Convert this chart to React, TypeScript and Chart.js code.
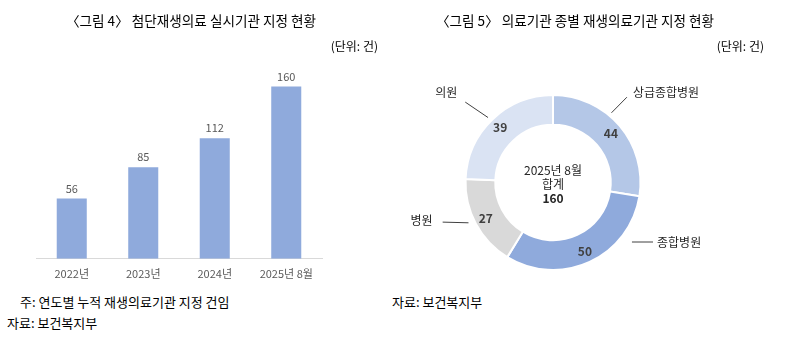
import React, { useEffect, useRef } from "react";
import { Chart, registerables } from "chart.js";

Chart.register(...registerables);

// ---- Data ----
const barCategories = ["2022년", "2023년", "2024년", "2025년 8월"];
const barValues = [56, 85, 112, 160];

const donutCategories = ["상급종합병원", "종합병원", "병원", "의원"];
const donutValues = [44, 50, 27, 39];
const donutCenterLines = ["2025년 8월", "합계", "160"];

// ---- Styles / layout (annotation geometry, not data) ----
const FONT = "'Noto Sans CJK KR', 'Noto Sans', sans-serif";
const barColor = "#8FAADC";
const donutColors = ["#B4C7E7", "#8FAADC", "#D9D9D9", "#DAE3F3"];
// leader lines: start/end as (degrees clockwise from top, radius factor of outer radius)
const leaderLayout = [
  { a0: 40, f0: 1.04, a1: 40.9, f1: 1.29, align: "left", dx: 6, dy: -5 },
  { a0: 127, f0: 1.13, a1: 120.75, f1: 1.33, align: "left", dx: 4, dy: 0 },
  { a0: 244.5, f0: 1.07, a1: 250.25, f1: 1.34, align: "right", dx: -10, dy: -2 },
  { a0: 315, f0: 1.05, a1: 312.5, f1: 1.36, align: "right", dx: -8, dy: -10 },
];

function pt(cx: number, cy: number, deg: number, r: number) {
  const a = ((deg - 90) * Math.PI) / 180;
  return { x: cx + r * Math.cos(a), y: cy + r * Math.sin(a) };
}

const barLabelPlugin = {
  id: "barLabels",
  afterDatasetsDraw(chart: any) {
    const ctx = chart.ctx;
    const meta = chart.getDatasetMeta(0);
    ctx.save();
    ctx.font = `11px ${FONT}`;
    ctx.fillStyle = "#595959";
    ctx.textAlign = "center";
    ctx.textBaseline = "middle";
    meta.data.forEach((bar: any, i: number) => {
      ctx.fillText(String(chart.data.datasets[0].data[i]), bar.x, bar.y - 10);
    });
    ctx.restore();
  },
};

const donutPlugin = {
  id: "donutLabels",
  afterDatasetsDraw(chart: any) {
    const ctx = chart.ctx;
    const meta = chart.getDatasetMeta(0);
    const data = chart.data.datasets[0].data;
    ctx.save();
    meta.data.forEach((arc: any, i: number) => {
      const { x, y, startAngle, endAngle, innerRadius, outerRadius } = arc.getProps(
        ["x", "y", "startAngle", "endAngle", "innerRadius", "outerRadius"],
        true
      );
      const mid = (startAngle + endAngle) / 2;
      const r = innerRadius + 0.62 * (outerRadius - innerRadius);
      ctx.font = `bold 12px ${FONT}`;
      ctx.fillStyle = "#404040";
      ctx.textAlign = "center";
      ctx.textBaseline = "middle";
      ctx.fillText(String(data[i]), x + r * Math.cos(mid), y + r * Math.sin(mid));

      const L = leaderLayout[i];
      const p0 = pt(x, y, L.a0, outerRadius * L.f0);
      const p1 = pt(x, y, L.a1, outerRadius * L.f1);
      ctx.strokeStyle = "#404040";
      ctx.lineWidth = 1;
      ctx.beginPath();
      ctx.moveTo(p0.x, p0.y);
      ctx.lineTo(p1.x, p1.y);
      ctx.stroke();
      ctx.font = `12px ${FONT}`;
      ctx.fillStyle = "#262626";
      ctx.textAlign = L.align as CanvasTextAlign;
      ctx.fillText(chart.data.labels[i], p1.x + L.dx, p1.y + L.dy);
    });
    const a0 = meta.data[0];
    ctx.textAlign = "center";
    ctx.textBaseline = "middle";
    ctx.fillStyle = "#262626";
    ctx.font = `12px ${FONT}`;
    ctx.fillText(donutCenterLines[0], a0.x, a0.y - 12);
    ctx.fillText(donutCenterLines[1], a0.x, a0.y + 1.5);
    ctx.font = `bold 12px ${FONT}`;
    ctx.fillText(donutCenterLines[2], a0.x, a0.y + 15.5);
    ctx.restore();
  },
};

function Txt(props: { x: number; y: number; align?: "left" | "right" | "center"; size: number; children: any }) {
  const { x, y, align = "left", size, children } = props;
  const lh = size * 1.4;
  const style: any = {
    position: "absolute",
    top: y - lh / 2,
    fontSize: size,
    lineHeight: `${lh}px`,
    whiteSpace: "nowrap",
    color: "#000",
    fontFamily: FONT,
  };
  if (align === "left") style.left = x;
  else if (align === "right") style.right = 804 - x;
  else {
    style.left = x - 300;
    style.width = 600;
    style.textAlign = "center";
  }
  return <div style={style}>{children}</div>;
}

export default function App() {
  const barRef = useRef<HTMLCanvasElement>(null);
  const donutRef = useRef<HTMLCanvasElement>(null);

  useEffect(() => {
    const bar = new Chart(barRef.current!, {
      type: "bar",
      data: {
        labels: barCategories,
        datasets: [
          {
            data: barValues,
            backgroundColor: barColor,
            borderWidth: 0,
            categoryPercentage: 1,
            barPercentage: 0.42,
          },
        ],
      },
      options: {
        responsive: false,
        animation: false,
        layout: { padding: { left: 36, right: 78, top: 65, bottom: 2 } },
        plugins: { legend: { display: false }, tooltip: { enabled: false } },
        scales: {
          x: {
            grid: { display: false, drawTicks: false },
            border: { display: true, color: "#D9D9D9", width: 1 },
            ticks: { color: "#595959", font: { size: 11, family: FONT }, padding: 8 },
          },
          y: { display: false, min: 0, max: 180 },
        },
      },
      plugins: [barLabelPlugin],
    });

    const donut = new Chart(donutRef.current!, {
      type: "doughnut",
      data: {
        labels: donutCategories,
        datasets: [
          {
            data: donutValues,
            backgroundColor: donutColors,
            borderColor: "#FFFFFF",
            borderWidth: 2,
          },
        ],
      },
      options: {
        responsive: false,
        animation: false,
        cutout: "66%",
        layout: { padding: { left: 64.5, right: 88.5, top: 34, bottom: 19 } },
        plugins: { legend: { display: false }, tooltip: { enabled: false } },
      },
      plugins: [donutPlugin],
    });

    return () => {
      bar.destroy();
      donut.destroy();
    };
  }, []);

  return (
    <div
      style={{
        position: "fixed",
        left: 0,
        top: 0,
        width: 804,
        height: 341,
        background: "#fff",
        overflow: "hidden",
      }}
    >
      <canvas ref={barRef} width={400} height={290} style={{ position: "absolute", left: 0, top: 0 }} />
      <canvas ref={donutRef} width={330} height={230} style={{ position: "absolute", left: 400, top: 60 }} />
      <Txt x={191} y={21} align="center" size={13.6}>〈그림 4〉 첨단재생의료 실시기관 지정 현황</Txt>
      <Txt x={378} y={46} align="right" size={12}>(단위: 건)</Txt>
      <Txt x={575} y={21} align="center" size={13.6}>〈그림 5〉 의료기관 종별 재생의료기관 지정 현황</Txt>
      <Txt x={764} y={46} align="right" size={12}>(단위: 건)</Txt>
      <Txt x={20} y={302} size={13}>주: 연도별 누적 재생의료기관 지정 건임</Txt>
      <Txt x={7} y={323} size={13}>자료: 보건복지부</Txt>
      <Txt x={392} y={302} size={13}>자료: 보건복지부</Txt>
    </div>
  );
}
